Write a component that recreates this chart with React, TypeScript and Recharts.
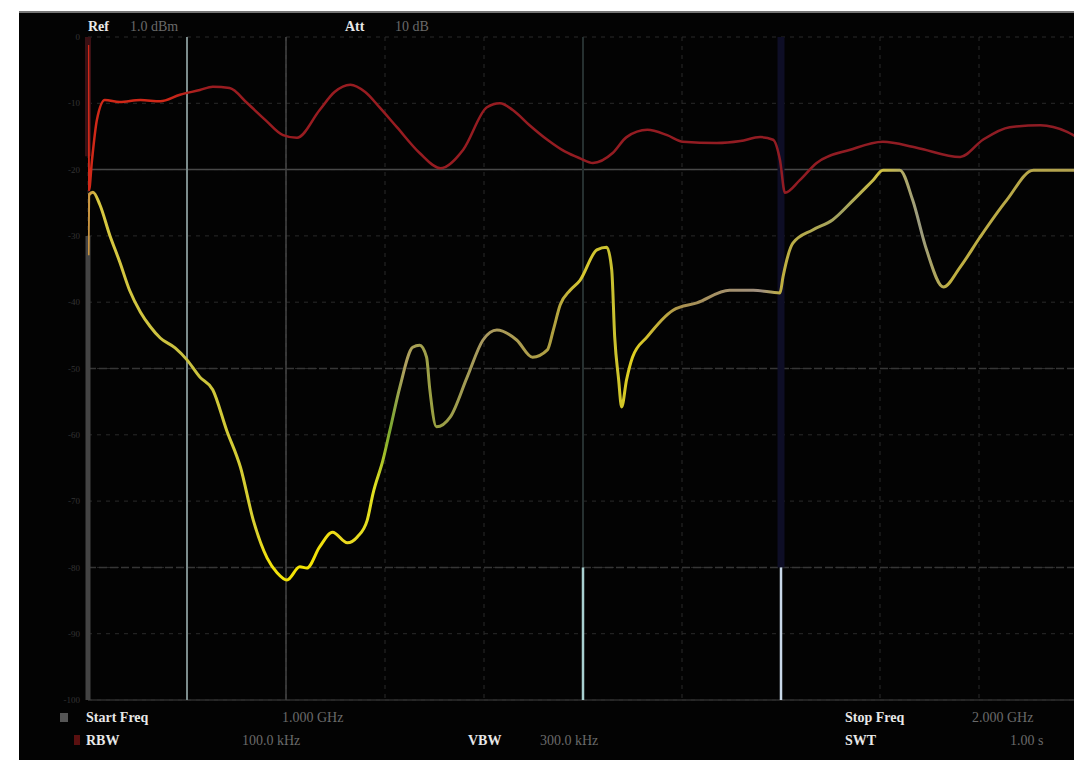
import React from "react";
import { LineChart, Line, XAxis, YAxis, CartesianGrid, ReferenceLine } from "recharts";

// Frequency axis (MHz) and level axis (dBm)
const freqTicks = [1000, 1100, 1200, 1300, 1400, 1500, 1600, 1700, 1800, 1900, 2000];
const levelTicks = [0, -10, -20, -30, -40, -50, -60, -70, -80, -90, -100];

// Trace 1 (red, max hold)
const redFreq = [1000, 1001, 1004, 1009, 1017, 1032, 1053, 1073, 1093, 1113, 1126, 1143, 1161, 1179, 1197, 1211, 1234, 1249, 1265, 1280, 1295, 1312, 1335, 1356, 1379, 1403, 1416, 1429, 1446, 1464, 1482, 1497, 1510, 1530, 1544, 1565, 1585, 1601, 1635, 1659, 1679, 1692, 1699, 1704, 1719, 1736, 1770, 1803, 1837, 1881, 1904, 1931, 1962, 1989, 2000];
const redLevel = [-1.2, -23.1, -18.6, -12.5, -9.5, -9.8, -9.5, -9.7, -8.7, -8.0, -7.5, -7.7, -10.0, -12.5, -14.8, -15.2, -11.0, -8.3, -7.2, -8.3, -10.7, -13.6, -17.5, -19.8, -17.0, -10.6, -10.0, -11.0, -13.3, -15.5, -17.3, -18.3, -19.0, -17.5, -15.1, -14.0, -14.8, -15.8, -16.0, -15.7, -15.1, -15.5, -18.6, -23.5, -21.6, -19.0, -17.0, -15.8, -16.7, -18.1, -15.5, -13.6, -13.3, -14.3, -15.2];

// Trace 2 (yellow, clear write)
const yelFreq = [1000, 1001, 1005, 1012, 1022, 1032, 1042, 1053, 1063, 1073, 1088, 1100, 1113, 1126, 1140, 1154, 1167, 1181, 1191, 1201, 1214, 1221, 1234, 1247, 1262, 1272, 1282, 1288, 1298, 1305, 1315, 1328, 1335, 1342, 1345, 1352, 1366, 1383, 1399, 1413, 1433, 1449, 1464, 1470, 1477, 1487, 1497, 1514, 1524, 1529, 1532, 1536, 1539, 1544, 1550, 1565, 1591, 1615, 1648, 1672, 1699, 1702, 1712, 1732, 1752, 1773, 1793, 1803, 1820, 1833, 1847, 1864, 1881, 1901, 1928, 1955, 2000];
const yelLevel = [-32.9, -23.8, -23.4, -25.3, -29.9, -33.9, -38.2, -41.5, -43.7, -45.4, -46.9, -48.7, -51.3, -53.2, -59.3, -64.9, -72.9, -78.6, -80.8, -81.9, -79.9, -80.1, -76.9, -74.7, -76.3, -75.4, -72.9, -68.8, -63.8, -59.3, -52.8, -46.8, -46.5, -48.3, -52.8, -58.8, -57.3, -51.3, -45.7, -44.2, -45.7, -48.3, -47.2, -44.2, -40.4, -38.2, -36.7, -32.1, -31.7, -35.1, -45.2, -51.7, -55.8, -51.7, -48.3, -45.2, -41.2, -40.1, -38.2, -38.2, -38.6, -36.2, -31.1, -29.1, -27.6, -24.6, -21.6, -20.1, -20.1, -24.6, -32.1, -37.7, -34.7, -30.2, -24.6, -20.1, -20.1];

const redData = redFreq.map((f, i) => ({ f, v: redLevel[i] }));
const yelData = yelFreq.map((f, i) => ({ f, v: yelLevel[i] }));

const txt: React.CSSProperties = {
  position: "absolute",
  fontFamily: "'Liberation Serif', serif",
  fontWeight: 700,
  fontSize: 14,
  color: "#e8e8e8",
  whiteSpace: "nowrap",
  lineHeight: "16px",
};
const dim: React.CSSProperties = { ...txt, color: "#6a6a6a", fontWeight: 400 };

export default function App() {
  return (
    <div style={{ position: "absolute", left: 0, top: 0, width: 1074, height: 760, background: "#ffffff", overflow: "hidden" }}>
      <div style={{ position: "absolute", left: 19, top: 11, width: 1060, height: 752, background: "#030303", borderTop: "2px solid #777" }} />
      <div style={{ position: "absolute", left: 0, top: 0 }}>
        <LineChart width={1090} height={760} margin={{ top: 37, right: 12, bottom: 60, left: 68 }}>
          <defs>
            <linearGradient id="yelGrad" x1="0" y1="0" x2="1" y2="0">
              <stop offset="0" stopColor="#c89040" />
              <stop offset="0.01" stopColor="#d8c840" />
              <stop offset="0.1" stopColor="#c8c040" />
              <stop offset="0.17" stopColor="#d8d030" />
              <stop offset="0.18" stopColor="#f0e010" />
              <stop offset="0.22" stopColor="#f4e400" />
              <stop offset="0.26" stopColor="#ead820" />
              <stop offset="0.29" stopColor="#e0e020" />
              <stop offset="0.305" stopColor="#7aa830" />
              <stop offset="0.32" stopColor="#b0a060" />
              <stop offset="0.35" stopColor="#98a040" />
              <stop offset="0.4" stopColor="#a89860" />
              <stop offset="0.47" stopColor="#b0a040" />
              <stop offset="0.5" stopColor="#d8c830" />
              <stop offset="0.53" stopColor="#c8c030" />
              <stop offset="0.55" stopColor="#e0d020" />
              <stop offset="0.6" stopColor="#a89050" />
              <stop offset="0.68" stopColor="#a09080" />
              <stop offset="0.7" stopColor="#c0b040" />
              <stop offset="0.76" stopColor="#a0a060" />
              <stop offset="0.8" stopColor="#d0c040" />
              <stop offset="0.84" stopColor="#9a9a80" />
              <stop offset="0.87" stopColor="#c0b040" />
              <stop offset="1" stopColor="#b0a050" />
            </linearGradient>
            <linearGradient id="redGrad" x1="0" y1="0" x2="1" y2="0">
              <stop offset="0" stopColor="#d02818" />
              <stop offset="0.08" stopColor="#d02818" />
              <stop offset="0.12" stopColor="#9a1c20" />
              <stop offset="1" stopColor="#8e1c24" />
            </linearGradient>
          </defs>
          <CartesianGrid stroke="#2a2a2a" strokeDasharray="4 5" />
          <XAxis dataKey="f" type="number" domain={[1000, 2000]} ticks={freqTicks} hide allowDataOverflow />
          <YAxis
            type="number"
            domain={[-100, 0]}
            ticks={levelTicks}
            width={20}
            axisLine={false}
            tickLine={false}
            tick={{ fill: "#333333", fontSize: 9, fontFamily: "'Liberation Serif', serif" }}
          />
          <ReferenceLine y={-20} stroke="#484848" strokeWidth={1.5} />
          <ReferenceLine y={-50} stroke="#363636" strokeWidth={1.5} strokeDasharray="8 3" />
          <ReferenceLine y={-80} stroke="#363636" strokeWidth={1.5} strokeDasharray="8 3" />
          <ReferenceLine y={-100} stroke="#2e2e2e" strokeWidth={1.5} />
          <ReferenceLine x={1100} stroke="#7c8c8c" strokeWidth={2} />
          <ReferenceLine x={1200} stroke="#444444" strokeWidth={1.5} />
          <ReferenceLine segment={[{ x: 1500, y: 0 }, { x: 1500, y: -80 }]} stroke="#263030" strokeWidth={2} />
          <ReferenceLine segment={[{ x: 1500, y: -80 }, { x: 1500, y: -100 }]} stroke="#a8d0d0" strokeWidth={2.5} />
          <ReferenceLine segment={[{ x: 1700, y: 0 }, { x: 1700, y: -80 }]} stroke="#0e0e26" strokeWidth={7} />
          <ReferenceLine segment={[{ x: 1700, y: -80 }, { x: 1700, y: -100 }]} stroke="#c8d8e8" strokeWidth={2.5} />
          <ReferenceLine segment={[{ x: 1000, y: 0 }, { x: 1000, y: -18 }]} stroke="#3a1014" strokeWidth={6} />
          <ReferenceLine segment={[{ x: 1000, y: -30 }, { x: 1000, y: -100 }]} stroke="#444444" strokeWidth={5} />
          <Line data={redData} dataKey="v" type="monotone" stroke="url(#redGrad)" strokeWidth={2.5} dot={false} isAnimationActive={false} />
          <Line data={yelData} dataKey="v" type="monotone" stroke="url(#yelGrad)" strokeWidth={3} dot={false} isAnimationActive={false} />
        </LineChart>
      </div>
      <div style={{ ...txt, left: 88, top: 19 }}>Ref</div>
      <div style={{ ...dim, left: 130, top: 19 }}>1.0 dBm</div>
      <div style={{ ...txt, left: 345, top: 19 }}>Att</div>
      <div style={{ ...dim, left: 395, top: 19 }}>10 dB</div>
      <div style={{ position: "absolute", left: 60, top: 713, width: 8, height: 9, background: "#555" }} />
      <div style={{ position: "absolute", left: 74, top: 735, width: 6, height: 10, background: "#5a1010" }} />
      <div style={{ ...txt, left: 86, top: 710 }}>Start Freq</div>
      <div style={{ ...dim, left: 282, top: 710 }}>1.000 GHz</div>
      <div style={{ ...txt, left: 86, top: 733 }}>RBW</div>
      <div style={{ ...dim, left: 242, top: 733 }}>100.0 kHz</div>
      <div style={{ ...txt, left: 468, top: 733 }}>VBW</div>
      <div style={{ ...dim, left: 540, top: 733 }}>300.0 kHz</div>
      <div style={{ ...txt, left: 845, top: 710 }}>Stop Freq</div>
      <div style={{ ...dim, left: 972, top: 710 }}>2.000 GHz</div>
      <div style={{ ...txt, left: 845, top: 733 }}>SWT</div>
      <div style={{ ...dim, left: 1010, top: 733 }}>1.00 s</div>
    </div>
  );
}
